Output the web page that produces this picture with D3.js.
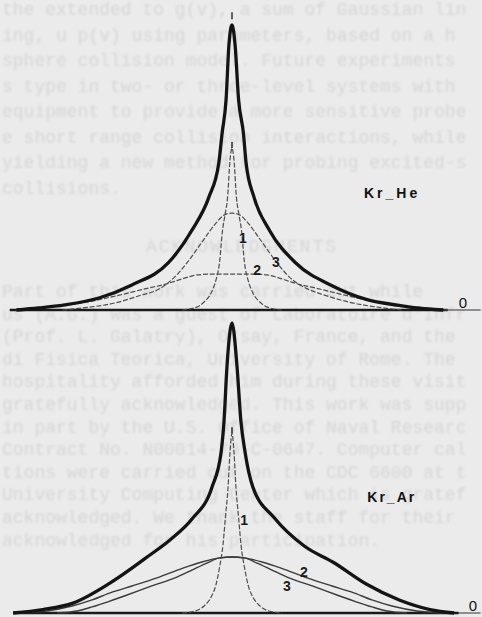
<!DOCTYPE html>
<html>
<head>
<meta charset="utf-8">
<script src="https://cdn.jsdelivr.net/npm/d3@7"></script>
<style>
    body { margin: 0; background: #eaeaea; }
    svg { display: block; }
</style>
</head>
<body>
<svg id="chart" width="482" height="617"></svg>
<script>
// line shapes, x = detuning (arb. units), y = normalised intensity
let heTotal = [[-9.8, 0], [-8.8, 0.007], [-7.6, 0.018], [-6.05, 0.042], [-4.55, 0.088], [-2.9, 0.165], [-1.82, 0.28],
    [-1.05, 0.396], [-0.6, 0.516], [-0.45, 0.62], [-0.27, 0.737], [-0.14, 0.93], [0, 1], [0.14, 0.93], [0.3, 0.737],
    [0.52, 0.62], [0.64, 0.516], [1.0, 0.396], [1.7, 0.28], [2.9, 0.165], [4.55, 0.085], [6.1, 0.037], [7.6, 0.016],
    [8.4, 0.007], [9.6, 0]];
let heLine1 = [[-2.27, 0], [-1.6, 0.01], [-1.27, 0.028], [-0.95, 0.06], [-0.73, 0.105], [-0.57, 0.165], [-0.43, 0.28],
    [-0.32, 0.333], [-0.2, 0.396], [-0.09, 0.526], [0, 0.568], [0.09, 0.526], [0.2, 0.396], [0.32, 0.333], [0.43, 0.28],
    [0.57, 0.165], [0.73, 0.105], [0.95, 0.06], [1.27, 0.028], [1.6, 0.01], [2.27, 0]];
let heLine2 = [[-9.8, 0], [-8.3, 0.011], [-6.8, 0.025], [-5.3, 0.049], [-3.8, 0.077], [-3.05, 0.09], [-2.27, 0.109],
    [-1.6, 0.123], [-0.9, 0.126], [0, 0.126], [0.9, 0.126], [1.6, 0.123], [2.27, 0.109], [3.05, 0.09], [3.8, 0.077],
    [5.3, 0.049], [6.8, 0.025], [8.3, 0.011], [9.8, 0]];
let heLine3 = [[-7.7, 0], [-6.8, 0.007], [-5.3, 0.025], [-4.1, 0.053], [-3.4, 0.07], [-2.6, 0.116], [-2.05, 0.165],
    [-1.23, 0.253], [-0.73, 0.305], [-0.36, 0.333], [0, 0.34], [0.36, 0.333], [0.73, 0.305], [1.23, 0.253],
    [2.05, 0.165], [2.6, 0.116], [3.4, 0.075], [4.1, 0.055], [5.3, 0.028], [6.8, 0.008], [7.7, 0]];

let arTotal = [[-9.95, 0], [-8.6, 0.012], [-7.23, 0.034], [-5.55, 0.103], [-3.73, 0.2], [-2.82, 0.252], [-1.82, 0.324],
    [-0.91, 0.434], [-0.5, 0.552], [-0.36, 0.665], [-0.23, 0.848], [0, 1], [0.23, 0.848], [0.4, 0.665], [0.6, 0.552],
    [0.95, 0.434], [1.9, 0.33], [3.3, 0.23], [4.6, 0.175], [6.1, 0.1], [7.6, 0.045], [9.0, 0.012], [10.1, 0]];
let arLine1 = [[-2.27, 0], [-1.68, 0.007], [-1.27, 0.024], [-0.95, 0.055], [-0.73, 0.097], [-0.57, 0.156],
    [-0.41, 0.235], [-0.3, 0.329], [-0.18, 0.433], [-0.09, 0.554], [0, 0.62], [0.09, 0.554], [0.18, 0.433],
    [0.3, 0.329], [0.41, 0.235], [0.57, 0.156], [0.73, 0.097], [0.95, 0.055], [1.27, 0.024], [1.68, 0.007], [2.27, 0]];
let arLine2 = [[-9.55, 0], [-8.41, 0.007], [-7.27, 0.024], [-6.36, 0.045], [-5.45, 0.072], [-4.55, 0.093],
    [-3.41, 0.121], [-2.23, 0.155], [-1.36, 0.176], [-0.55, 0.19], [0, 0.193], [0.55, 0.19], [1.36, 0.176],
    [2.23, 0.155], [3.41, 0.121], [4.55, 0.093], [5.45, 0.072], [6.36, 0.045], [7.27, 0.024], [8.41, 0.007], [9.55, 0]];
let arLine3 = [[-7.95, 0], [-7.05, 0.007], [-6.36, 0.021], [-5.55, 0.041], [-4.77, 0.062], [-3.77, 0.09],
    [-2.5, 0.124], [-1.82, 0.148], [-1.14, 0.172], [-0.55, 0.19], [0, 0.193], [0.55, 0.19], [1.14, 0.172],
    [1.82, 0.148], [2.5, 0.124], [3.77, 0.09], [4.77, 0.062], [5.55, 0.041], [6.36, 0.021], [7.05, 0.007], [7.95, 0]];

// curve number labels [text, x, y]
let heLabels = [['1', 0.5, 0.253], ['2', 1.14, 0.14], ['3', 2.0, 0.168]];
let arLabels = [['1', 0.55, 0.32], ['2', 3.27, 0.141], ['3', 2.5, 0.093]];

// faded text showing through from the page
let pageTextTop = [
    'the extended to g(v), a sum of Gaussian lin',
    'ing, u p(v)  using parameters, based on a h',
    'sphere collision model.  Future experiments',
    's type in two- or three-level systems with',
    'equipment to provide a more sensitive probe',
    'e short range collision interactions, while',
    'yielding a new method for probing excited-s',
    'collisions.'
];
let pageHeading = 'ACKNOWLEDGMENTS';
let pageTextBottom = [
    '   Part of this work was carried out while',
    'us (A.G.) was a guest of Laboratoire d\'Infr',
    '(Prof. L. Galatry), Orsay, France, and the',
    'di Fisica Teorica, University of Rome. The',
    'hospitality afforded him during these visit',
    'gratefully acknowledged. This work was supp',
    'in part by the U.S. Office of Naval Researc',
    'Contract No. N00014-79-C-0647. Computer cal',
    'tions were carried out on the CDC 6600 at t',
    'University Computing Center which is gratef',
    'acknowledged. We thank the staff for their',
    '      acknowledged for his participation.'
];

const svg = d3.select('#chart');

svg.append('rect').attr('width', 482).attr('height', 617).attr('fill', '#ebebeb');

let defs = svg.append('defs');
defs.append('filter').attr('id', 'fade')
    .append('feGaussianBlur').attr('stdDeviation', 0.8);

// background page text
let pageG = svg.append('g')
    .attr('font-family', 'Liberation Mono, monospace')
    .attr('font-size', 18)
    .attr('fill', '#d6d6d6')
    .attr('filter', 'url(#fade)');

pageG.selectAll('text.top')
    .data(pageTextTop)
    .enter().append('text')
    .attr('x', 2)
    .attr('y', (d, i) => 15 + i * 25.5)
    .text(d => d);

pageG.append('text')
    .attr('x', 242)
    .attr('y', 252)
    .attr('text-anchor', 'middle')
    .attr('letter-spacing', 2)
    .text(pageHeading);

pageG.selectAll('text.bottom')
    .data(pageTextBottom)
    .enter().append('text')
    .attr('x', 2)
    .attr('y', (d, i) => 297 + i * 22.6)
    .text(d => d);

let x = d3.scaleLinear().domain([-10, 10]).range([12, 452]);

let panels = [
    {
        name: 'Kr_He', y: d3.scaleLinear().domain([0, 1]).range([310, 25]),
        total: heTotal, lines: [heLine1, heLine2, heLine3], dashed: [true, true, true],
        labels: heLabels, nameAt: [6.0, 0.41], axis: [-10.1, 9.8], axisThin: 11.3, zeroAt: 10.5
    },
    {
        name: 'Kr_Ar', y: d3.scaleLinear().domain([0, 1]).range([613, 323]),
        total: arTotal, lines: [arLine1, arLine2, arLine3], dashed: [true, false, false],
        labels: arLabels, nameAt: [6.15, 0.4], axis: [-9.95, 10.3], axisThin: 11.3, zeroAt: 10.95
    }
];

panels.forEach(function (p) {
    let g = svg.append('g');
    let line = d3.line()
        .x(d => x(d[0]))
        .y(d => p.y(d[1]))
        .curve(d3.curveMonotoneX);

    // baseline
    g.append('line')
        .attr('x1', x(p.axis[0])).attr('x2', x(p.axisThin))
        .attr('y1', p.y(0)).attr('y2', p.y(0))
        .attr('stroke', '#333').attr('stroke-width', 1);
    g.append('line')
        .attr('x1', x(p.axis[0])).attr('x2', x(p.axis[1]))
        .attr('y1', p.y(0)).attr('y2', p.y(0))
        .attr('stroke', '#1a1a1a').attr('stroke-width', 2.4);

    p.lines.forEach(function (data, i) {
        g.append('path')
            .datum(data)
            .attr('fill', 'none')
            .attr('stroke', p.dashed[i] ? '#4d4d4d' : '#3a3a3a')
            .attr('stroke-width', p.dashed[i] ? 1.2 : 1.4)
            .attr('stroke-dasharray', p.dashed[i] ? '5 1.8' : null)
            .attr('stroke-linejoin', 'round')
            .attr('d', line);
    });

    // little tick at the top of the narrow component
    let peak1 = p.lines[0].find(d => d[0] === 0);
    g.append('line')
        .attr('x1', x(0)).attr('x2', x(0))
        .attr('y1', p.y(peak1[1])).attr('y2', p.y(peak1[1]) - 6)
        .attr('stroke', '#333').attr('stroke-width', 1.6);

    g.append('path')
        .datum(p.total)
        .attr('fill', 'none')
        .attr('stroke', '#141414')
        .attr('stroke-width', 3.3)
        .attr('stroke-linejoin', 'round')
        .attr('d', line);

    g.selectAll('text.num')
        .data(p.labels)
        .enter().append('text')
        .attr('x', d => x(d[1]))
        .attr('y', d => p.y(d[2]))
        .attr('dy', '0.35em')
        .attr('text-anchor', 'middle')
        .attr('font-family', 'Liberation Sans, Arial, sans-serif')
        .attr('font-weight', 'bold')
        .attr('font-size', 14)
        .attr('fill', '#1a1a1a')
        .text(d => d[0]);

    g.append('text')
        .attr('x', x(p.nameAt[0]))
        .attr('y', p.y(p.nameAt[1]))
        .attr('dy', '0.35em')
        .attr('font-family', 'Liberation Sans, Arial, sans-serif')
        .attr('font-weight', 'bold')
        .attr('font-size', 14)
        .attr('letter-spacing', p.name === 'Kr_He' ? 3 : 2)
        .attr('fill', '#111')
        .text(p.name);

    g.append('text')
        .attr('x', x(p.zeroAt))
        .attr('y', p.y(0) - 2)
        .attr('text-anchor', 'middle')
        .attr('font-family', 'Liberation Sans, Arial, sans-serif')
        .attr('font-size', 15)
        .attr('fill', '#111')
        .text('0');
});

// small mark above the Kr_He peak
svg.append('line')
    .attr('x1', x(0)).attr('x2', x(0))
    .attr('y1', panels[0].y(1.02)).attr('y2', panels[0].y(1.045))
    .attr('stroke', '#333').attr('stroke-width', 1.5);
</script>
</body>
</html>
